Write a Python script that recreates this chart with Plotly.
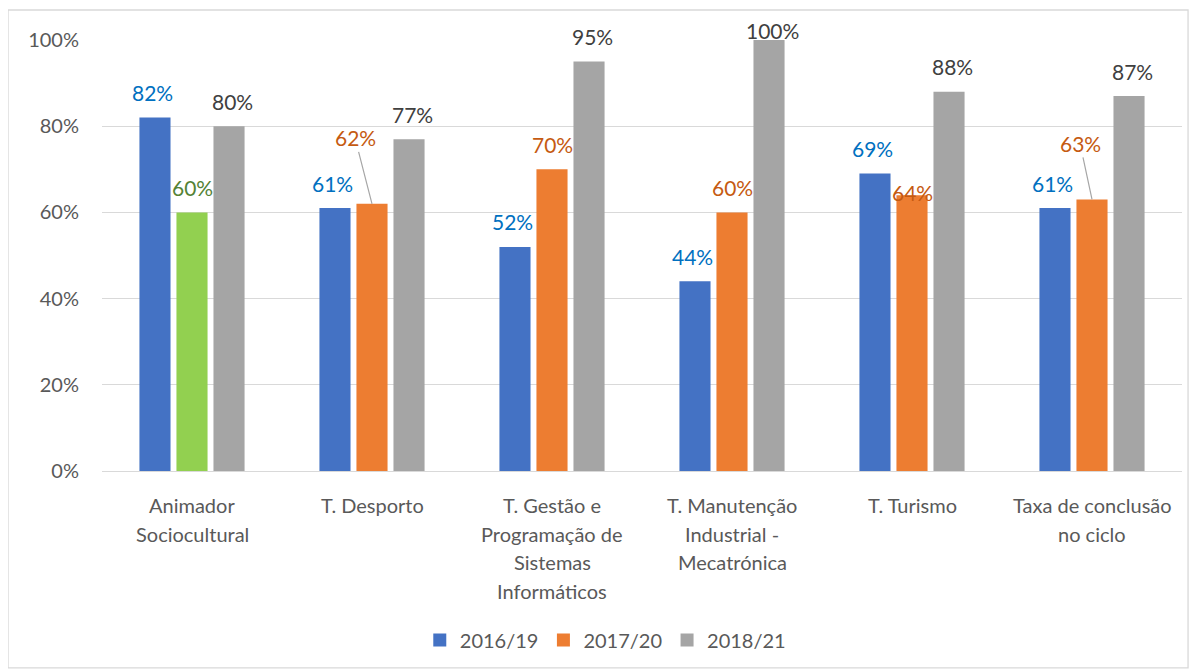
import plotly.graph_objects as go

categories = ["Animador<br>Sociocultural", "T. Desporto",
              "T. Gestão e<br>Programação de<br>Sistemas<br>Informáticos",
              "T. Manutenção<br>Industrial -<br>Mecatrónica", "T. Turismo",
              "Taxa de conclusão<br>no ciclo"]
series_names = ["2016/19", "2017/20", "2018/21"]
v_2016_19 = [0.82, 0.61, 0.52, 0.44, 0.69, 0.61]
v_2017_20 = [0.60, 0.62, 0.70, 0.60, 0.64, 0.63]
v_2018_21 = [0.80, 0.77, 0.95, 1.00, 0.88, 0.87]
y_ticks = [0, 0.2, 0.4, 0.6, 0.8, 1.0]

# styles
FONT = "Lato"
bar_colors = ["#4472C4", "#ED7D31", "#A5A5A5"]
label_colors = ["#0070C0", "#C55A11", "#404040"]
special_bar = {(1, 0): "#92D050"}      # (series, category) -> colour override
special_label = {(1, 0): "#548235"}
label_yshift = {(2, 3): 10, (1, 4): 3}
leader = {(1, 1): (-17, -66), (1, 5): (-12, -56)}
xshift_px = [-40, 0, 40]

values = [v_2016_19, v_2017_20, v_2018_21]
keys = [f"c{i}" for i in range(len(categories))]

fig = go.Figure()
for s, (name, vals) in enumerate(zip(series_names, values)):
    cols = [special_bar.get((s, i), bar_colors[s]) for i in range(len(vals))]
    fig.add_trace(go.Bar(x=keys, y=vals, name=name, marker_color=cols,
                         marker_line_width=0, showlegend=False))
for s, name in enumerate(series_names):
    fig.add_trace(go.Scatter(x=[None], y=[None], mode="markers", name=name,
                             marker=dict(symbol="square", size=13, color=bar_colors[s])))

ann = []
for s, vals in enumerate(values):
    for i, v in enumerate(vals):
        col = special_label.get((s, i), label_colors[s])
        txt = f"{round(v*100)}%"
        if (s, i) in leader:
            ax, ay = leader[(s, i)]
            ann.append(dict(x=keys[i], y=v, xref="x", yref="y", text=txt, showarrow=True,
                            arrowhead=0, arrowwidth=1.2, arrowcolor="#A6A6A6", ax=ax, ay=ay,
                            xshift=xshift_px[s], standoff=0,
                            font=dict(family=FONT, size=21, color=col)))
        else:
            ann.append(dict(x=keys[i], y=v, xref="x", yref="y", text=txt, showarrow=False,
                            xshift=xshift_px[s], yshift=label_yshift.get((s, i), 25),
                            yanchor="middle", font=dict(family=FONT, size=21, color=col)))

for i, c in enumerate(categories):
    for j, line in enumerate(c.split("<br>")):
        ann.append(dict(x=keys[i], y=0, xref="x", yref="paper", text=line, showarrow=False,
                        yanchor="middle", yshift=-34 - 28.5 * j,
                        font=dict(family=FONT, size=20, color="#595959")))

fig.update_layout(
    width=1190, height=664,
    margin=dict(l=94, r=16, t=32, b=201),
    paper_bgcolor="white", plot_bgcolor="white",
    barmode="group", bargap=0.383, bargroupgap=0.16,
    font=dict(family=FONT, size=20, color="#595959"),
    annotations=ann,
    legend=dict(orientation="h", x=0.466, xanchor="center", y=-0.392, yanchor="middle",
                font=dict(family=FONT, size=20, color="#595959"), itemwidth=30),
    shapes=[dict(type="rect", xref="paper", yref="paper", x0=-0.087, x1=1.0056,
                 y0=-0.457, y1=1.0696, line=dict(color="#D9D9D9", width=1.3))],
)
fig.update_xaxes(showticklabels=False, showgrid=False, showline=False, zeroline=False,
                 categoryorder="array", categoryarray=keys)
fig.update_yaxes(range=[0, 1], tickvals=y_ticks, tickformat=".0%", showgrid=True,
                 gridcolor="#D9D9D9", gridwidth=1.3, zeroline=True, zerolinecolor="#D9D9D9",
                 zerolinewidth=1.3, ticklabelstandoff=22,
                 tickfont=dict(family=FONT, size=20, color="#595959"))
fig.write_html("out.html")
